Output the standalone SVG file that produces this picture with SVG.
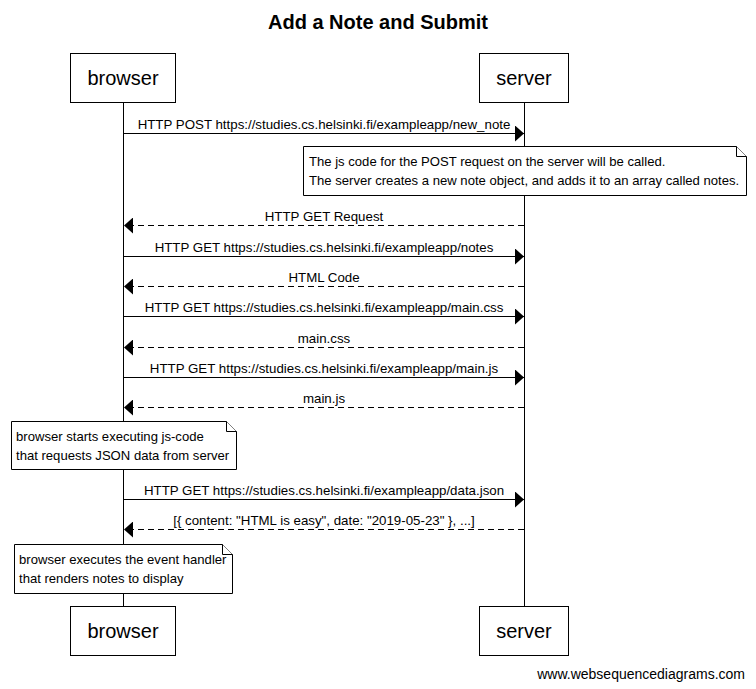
<svg xmlns="http://www.w3.org/2000/svg" width="756" height="689" viewBox="0 0 756 689">
<defs>
<marker id="ah" markerWidth="10" markerHeight="16" refX="9" refY="8" orient="auto" markerUnits="userSpaceOnUse">
<path d="M0,0 L9,8 L0,16 Z" fill="#000"/>
</marker>
</defs>
<style>
text{font-family:"Liberation Sans",Arial,sans-serif;fill:#000}
.title{font-size:20px;font-weight:bold}
.part{font-size:20px}
.lbl{font-size:13.3px}
.nt{font-size:13.1px}
.wm{font-size:14px}
.box{fill:#fff;stroke:#000;stroke-width:1}
.life{stroke:#000;stroke-width:1}
.msg{stroke:#000;stroke-width:1;fill:none;marker-end:url(#ah)}
.ret{stroke:#000;stroke-width:1;fill:none;stroke-dasharray:6,4;marker-end:url(#ah)}
.note{fill:#fff;stroke:#000;stroke-width:1}
</style>
<rect width="756" height="689" fill="#fff"/>
<text class="title" x="378" y="29" text-anchor="middle">Add a Note and Submit</text>
<g id="lifelines">
<line class="life" x1="123.5" y1="102" x2="123.5" y2="607"/>
<line class="life" x1="524.5" y1="102" x2="524.5" y2="607"/>
</g>
<g id="browser">
<rect class="box" x="70.5" y="53.5" width="105" height="49"/>
<text class="part" x="123" y="85" text-anchor="middle">browser</text>
</g>
<g id="server">
<rect class="box" x="479.5" y="53.5" width="89" height="49"/>
<text class="part" x="524" y="85" text-anchor="middle">server</text>
</g>
<g id="browser-bottom">
<rect class="box" x="70.5" y="606.5" width="105" height="49"/>
<text class="part" x="123" y="638" text-anchor="middle">browser</text>
</g>
<g id="server-bottom">
<rect class="box" x="479.5" y="606.5" width="89" height="49"/>
<text class="part" x="524" y="638" text-anchor="middle">server</text>
</g>
<g id="connectors">
<line class="msg" x1="123.5" y1="133.5" x2="524" y2="133.5"/>
<text class="lbl" x="324" y="129" text-anchor="middle">HTTP POST https://studies.cs.helsinki.fi/exampleapp/new_note</text>
<line class="ret" x1="524" y1="225.5" x2="124" y2="225.5"/>
<text class="lbl" x="324" y="221" text-anchor="middle">HTTP GET Request</text>
<line class="msg" x1="123.5" y1="256.5" x2="524" y2="256.5"/>
<text class="lbl" x="324" y="252" text-anchor="middle">HTTP GET https://studies.cs.helsinki.fi/exampleapp/notes</text>
<line class="ret" x1="524" y1="286.5" x2="124" y2="286.5"/>
<text class="lbl" x="324" y="282" text-anchor="middle">HTML Code</text>
<line class="msg" x1="123.5" y1="316.5" x2="524" y2="316.5"/>
<text class="lbl" x="324" y="312" text-anchor="middle">HTTP GET https://studies.cs.helsinki.fi/exampleapp/main.css</text>
<line class="ret" x1="524" y1="347.5" x2="124" y2="347.5"/>
<text class="lbl" x="324" y="343" text-anchor="middle">main.css</text>
<line class="msg" x1="123.5" y1="377.5" x2="524" y2="377.5"/>
<text class="lbl" x="324" y="373" text-anchor="middle">HTTP GET https://studies.cs.helsinki.fi/exampleapp/main.js</text>
<line class="ret" x1="524" y1="407.5" x2="124" y2="407.5"/>
<text class="lbl" x="324" y="403" text-anchor="middle">main.js</text>
<line class="msg" x1="123.5" y1="499.5" x2="524" y2="499.5"/>
<text class="lbl" x="324" y="495" text-anchor="middle">HTTP GET https://studies.cs.helsinki.fi/exampleapp/data.json</text>
<line class="ret" x1="524" y1="529.5" x2="124" y2="529.5"/>
<text class="lbl" x="324" y="525" text-anchor="middle">[{ content: "HTML is easy", date: "2019-05-23" }, ...]</text>
</g>
<g id="note1">
<path class="note" d="M303.5,146.5 H736.5 L746.5,156.5 V195.5 H303.5 Z"/>
<path class="note" d="M736.5,146.5 V156.5 H746.5" fill="none"/>
<text class="nt" x="309" y="166">The js code for the POST request on the server will be called.</text>
<text class="nt" x="309" y="185">The server creates a new note object, and adds it to an array called notes.</text>
</g>
<g id="note2">
<path class="note" d="M11.5,421.5 H226.5 L236.5,431.5 V469.5 H11.5 Z"/>
<path class="note" d="M226.5,421.5 V431.5 H236.5" fill="none"/>
<text class="nt" x="16" y="441">browser starts executing js-code</text>
<text class="nt" x="16" y="460">that requests JSON data from server</text>
</g>
<g id="note3">
<path class="note" d="M14.5,544.5 H222.5 L232.5,554.5 V593.5 H14.5 Z"/>
<path class="note" d="M222.5,544.5 V554.5 H232.5" fill="none"/>
<text class="nt" x="19" y="564">browser executes the event handler</text>
<text class="nt" x="19" y="583">that renders notes to display</text>
</g>
<text class="wm" x="745" y="679" text-anchor="end">www.websequencediagrams.com</text>
</svg>
